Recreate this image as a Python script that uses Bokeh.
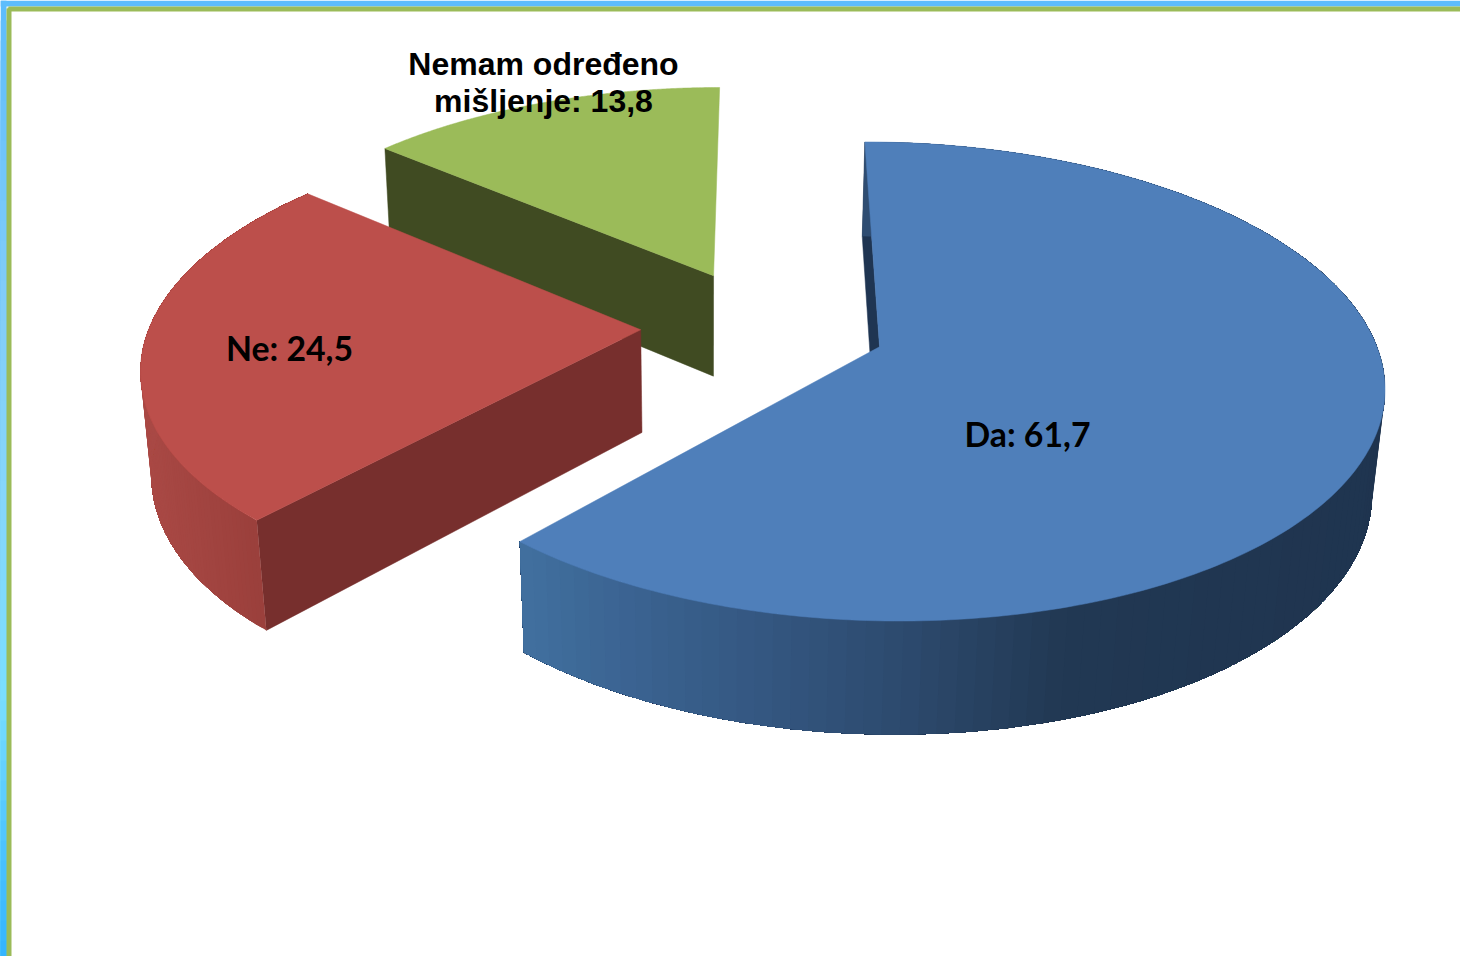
import numpy as np
from bokeh.plotting import figure
from bokeh.embed import file_html
from bokeh.resources import INLINE
from bokeh.core.properties import value

# chart data
categories = ["Da", "Ne", "Nemam određeno mišljenje"]
values = [61.7, 24.5, 13.8]
label_lines = [["Da: 61,7"], ["Ne: 24,5"], ["Nemam određeno", "mišljenje: 13,8"]]

top_colors = ["#4f7fba", "#bc4f4b", "#9bbb59"]
wall_colors = ["#1f3552", "#772f2d", "#404b22"]
rim_stops = [
    ([525, 640, 760, 900, 1060, 1400], ["#41709f", "#3a6290", "#345781", "#2d4a6e", "#213853", "#1f344f"]),
    ([140, 200, 270], ["#ab4a46", "#a34541", "#9a3f3b"]),
    None,
]
frame_stops = ([0, 300, 500, 700, 850, 956], ["#5dbcfc", "#82cdf8", "#86d6fb", "#79deff", "#4cc3ff", "#33b4ff"])
label_pos = [(1027, 433), (289, 347), (543, 63)]
label_font = ["Lato", "Lato", "Liberation Sans"]
label_size = ["33.8px", "33.8px", "32px"]
line_step = 37
EXPLODE = 0.25
BANDS = 120

TOP = dict(x0=763.0, y0=325.5, a=491.0, b=228.5, k=0.143)
BOT = dict(x0=762.0, y0=428.0, a=482.0, b=238.0, k=0.14)


def proj(U, V, P):
    w = 1 + P["k"] * V
    return P["x0"] + P["a"] * U / w, P["y0"] - P["b"] * V / w


def lerp_color(x, xs, cols):
    rgb = [[int(c[i:i + 2], 16) for i in (1, 3, 5)] for c in cols]
    return "#%02x%02x%02x" % tuple(int(round(np.interp(x, xs, [r[j] for r in rgb]))) for j in range(3))


p = figure(width=1460, height=956, x_range=(0, 1460), y_range=(956, 0),
           output_backend="svg", toolbar_location=None, min_border=0,
           x_axis_type=None, y_axis_type=None, outline_line_color=None)
p.grid.visible = False

# page frame: blue outer band that shifts along the left edge, green inner band
p.quad(left=[0], right=[1460], top=[0], bottom=[6], fill_color="#5dbcfc", line_color=None)
fy = np.arange(0, 956, 20)
p.quad(left=0, right=6, top=fy, bottom=956,
       fill_color=[lerp_color(y + 10, *frame_stops) for y in fy], line_color=None)
p.quad(left=[8], right=[1460], top=[6], bottom=[11], fill_color="#9bbb59", line_color=None)
p.quad(left=[6], right=[11], top=[8], bottom=[956], fill_color="#9bbb59", line_color=None)
p.quad(left=[7], right=[9], top=[7], bottom=[9], fill_color="#9bbb59", line_color=None)

total = sum(values)
starts = np.cumsum([0] + values[:-1]) / total * 2 * np.pi
ends = np.cumsum(values) / total * 2 * np.pi

# back to front: green, red, blue
for i in (2, 1, 0):
    t0, t1 = starts[i], ends[i]
    mid = (t0 + t1) / 2
    cu, cv = EXPLODE * np.sin(mid), EXPLODE * np.cos(mid)
    th = np.linspace(t0, t1, 241)
    U = cu + np.sin(th)
    V = cv + np.cos(th)
    # the cut wall that faces the viewer
    eu, ev = cu + np.sin(t0), cv + np.cos(t0)
    pts = [proj(cu, cv, TOP), proj(eu, ev, TOP), proj(eu, ev, BOT), proj(cu, cv, BOT)]
    p.patch([q[0] for q in pts], [q[1] for q in pts], fill_color=wall_colors[i],
            line_color=wall_colors[i], line_width=0.5)
    xt, yt = proj(U, V, TOP)
    xb, yb = proj(U, V, BOT)
    # outer rim: overlapping bands give a seamless horizontal gradient
    if rim_stops[i] is not None:
        edges = np.linspace(0, len(th) - 1, BANDS + 1).astype(int)
        xs, ys, cs = [], [], []
        for a, b in zip(edges[:-1], edges[1:]):
            xs.append(np.r_[xt[a:], xb[a:][::-1]])
            ys.append(np.r_[yt[a:], yb[a:][::-1]])
            cs.append(lerp_color(xb[a:b + 1].mean(), *rim_stops[i]))
        p.patches(xs, ys, fill_color=cs, line_color=None)
    # top face
    ax, ay = proj(cu, cv, TOP)
    p.patch(np.r_[ax, xt, ax], np.r_[ay, yt, ay], fill_color=top_colors[i], line_color=top_colors[i], line_width=0.5)

# labels
for i, lines in enumerate(label_lines):
    for n, line in enumerate(lines):
        p.text([label_pos[i][0]], [label_pos[i][1] + n * line_step], text=[line],
               text_font=value(label_font[i]), text_font_style="bold", text_font_size=label_size[i],
               text_color="#000000", text_align="center", text_baseline="middle")

html = file_html(p, INLINE)
html = html.replace("</head>", "<style>html,body{margin:0;padding:0;overflow:hidden}</style></head>", 1)
open("out.html", "w").write(html)
